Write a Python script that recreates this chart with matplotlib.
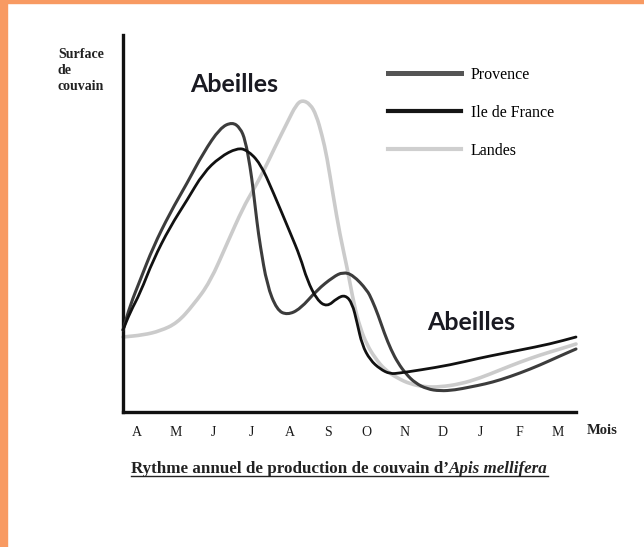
import matplotlib
matplotlib.use("Agg")
import matplotlib.pyplot as plt
from matplotlib.lines import Line2D
from matplotlib.patches import Rectangle, PathPatch
from matplotlib.path import Path

W, H = 644, 547

# month labels, A (avril) -> M (mars)
months = ['A', 'M', 'J', 'J', 'A', 'S', 'O', 'N', 'D', 'J', 'F', 'M']

# brood surface (arbitrary units), x in months from April
provence_x = [-0.37, -0.18, 0.08, 0.42, 0.86, 1.31, 1.73, 2.17, 2.49, 2.70, 2.83, 2.96,
              3.04, 3.14, 3.22, 3.40, 3.66, 3.93, 4.27, 4.71, 5.13, 5.39, 5.65, 6.02,
              6.15, 6.31, 6.47, 6.65, 6.83, 7.04, 7.28, 7.59, 7.93, 8.32, 8.72, 9.11,
              9.50, 10.03, 10.55, 11.07, 11.49]
provence_y = [82, 107, 132, 165, 199, 229, 259, 284, 290, 284, 272, 245,
              222, 189, 167, 127, 102, 97, 103, 122, 135, 140, 137, 122,
              112, 97, 79, 62, 49, 38, 29, 23, 21, 22, 25, 28,
              32, 39, 47, 56, 63]

idf_x = [-0.37, -0.18, 0.08, 0.42, 0.86, 1.31, 1.73, 2.17, 2.62, 2.88, 3.22, 3.56,
         4.01, 4.27, 4.45, 4.71, 4.97, 5.24, 5.45, 5.63, 5.76, 5.89, 6.10, 6.36,
         6.62, 6.88, 7.41, 8.19, 8.98, 9.50, 10.03, 10.81, 11.49]
idf_y = [82, 100, 119, 152, 185, 212, 239, 255, 264, 262, 249, 220,
         179, 155, 132, 112, 105, 114, 117, 109, 89, 67, 52, 43,
         38, 39, 42, 47, 54, 58, 62, 68, 75]

landes_x = [-0.37, 0.16, 0.60, 1.05, 1.47, 1.91, 2.36, 2.77, 3.04, 3.30, 3.61, 3.95,
            4.16, 4.32, 4.53, 4.69, 4.84, 4.97, 5.13, 5.31, 5.50, 5.68, 5.84, 6.02,
            6.23, 6.49, 6.81, 7.15, 7.54, 7.93, 8.46, 8.98, 9.50, 10.03, 10.55, 11.07,
            11.49]
landes_y = [75, 77, 81, 89, 107, 130, 169, 204, 222, 240, 265, 291,
            307, 312, 308, 297, 277, 255, 217, 177, 144, 107, 84, 67,
            54, 42, 34, 28, 25, 25, 28, 34, 42, 50, 57, 63,
            68]

series_names = ['Provence', 'Ile de France', 'Landes']


def fx(px):
    return px / W


def fy(py):
    return 1 - py / H


def curve_path(xs, ys):
    # quadratic b-spline style path through the read points (drawing only)
    verts = [(xs[0], ys[0]), ((xs[0] + xs[1]) / 2, (ys[0] + ys[1]) / 2)]
    codes = [Path.MOVETO, Path.LINETO]
    for i in range(1, len(xs) - 1):
        verts.append((xs[i], ys[i]))
        verts.append(((xs[i] + xs[i + 1]) / 2, (ys[i] + ys[i + 1]) / 2))
        codes += [Path.CURVE3, Path.CURVE3]
    verts.append((xs[-1], ys[-1]))
    codes.append(Path.LINETO)
    return Path(verts, codes)


serif = 'Liberation Serif'

fig = plt.figure(figsize=(W / 100, H / 100), dpi=100)
fig.patch.set_facecolor('white')

# orange frame on the left and top
fig.patches.append(Rectangle((0, 0), fx(7), 1, transform=fig.transFigure,
                             color='#F89A62', zorder=0))
fig.patches.append(Rectangle((0, fy(3)), 1, fy(0) - fy(3), transform=fig.transFigure,
                             color='#F89A62', zorder=0))

ax = fig.add_axes([fx(123), fy(412), (576 - 123) / W, (412 - 35) / H])
ax.set_xlim(-0.37, 11.49)
ax.set_ylim(0, 377)
for s in ['top', 'right']:
    ax.spines[s].set_visible(False)
for s in ['left', 'bottom']:
    ax.spines[s].set_linewidth(2.4)
    ax.spines[s].set_color('#111111')
ax.set_yticks([])
ax.set_xticks(range(len(months)))
ax.set_xticklabels(months, fontfamily=serif, fontsize=10, color='#1a1a1a')
ax.tick_params(axis='x', length=0, pad=10)

styles = [(landes_x, landes_y, '#cbcbcb', 2.6, 2),
          (provence_x, provence_y, '#3c3c3c', 2.2, 3),
          (idf_x, idf_y, '#111111', 2.0, 4)]
for xs, ys, col, lw, z in styles:
    ax.add_patch(PathPatch(curve_path(xs, ys), fill=False, edgecolor=col, lw=lw,
                           joinstyle='round', capstyle='round', clip_on=False,
                           zorder=z))

handles = [Line2D([], [], color='#555555', lw=3.6),
           Line2D([], [], color='#151515', lw=3.0),
           Line2D([], [], color='#cfcfcf', lw=3.0)]
fig.legend(handles, series_names, loc='upper left',
           bbox_to_anchor=(fx(388), fy(67)), frameon=False,
           handlelength=4.6, handletextpad=0.6, labelspacing=1.38,
           borderpad=0, borderaxespad=0,
           prop={'family': serif, 'size': 11.5})

# texts
fig.text(fx(58), fy(71), 'Surface\nde\ncouvain', ha='left', va='center',
         fontfamily=serif, fontweight='bold', fontsize=10, linespacing=1.3,
         color='#222222')
fig.text(fx(234), fy(84), 'Abeilles', ha='center', va='center',
         fontfamily='Lato', fontweight='bold', fontsize=18, color='#1a1a22')
fig.text(fx(471), fy(322), 'Abeilles', ha='center', va='center',
         fontfamily='Lato', fontweight='bold', fontsize=18, color='#1a1a22')
fig.text(fx(602), fy(431), 'Mois', ha='center', va='center',
         fontfamily=serif, fontweight='bold', fontsize=10.5, color='#222222')

# caption, sized to span the same width as in the picture
cap_left, cap_right = 131, 550
cap_size = 10.5
r = fig.canvas.get_renderer()
t1 = fig.text(fx(cap_left), fy(473), 'Rythme annuel de production de couvain d\u2019',
              ha='left', va='baseline', fontfamily=serif, fontweight='bold',
              fontsize=cap_size, color='#222222')
t2 = fig.text(0, fy(473), 'Apis mellifera', ha='left', va='baseline',
              fontfamily=serif, fontweight='bold', fontstyle='italic',
              fontsize=cap_size, color='#222222')
wid = t1.get_window_extent(r).width + t2.get_window_extent(r).width
cap_size = cap_size * (cap_right - cap_left) / wid
t1.set_fontsize(cap_size)
t2.set_fontsize(cap_size)
b1 = t1.get_window_extent(r)
t2.set_x(b1.x1 / W)
b2 = t2.get_window_extent(r)
fig.lines.append(Line2D([fx(cap_left), b2.x1 / W], [fy(476), fy(476)],
                        transform=fig.transFigure, color='#222222', lw=1.0))

fig.savefig('out.png', dpi=100, facecolor='white')
